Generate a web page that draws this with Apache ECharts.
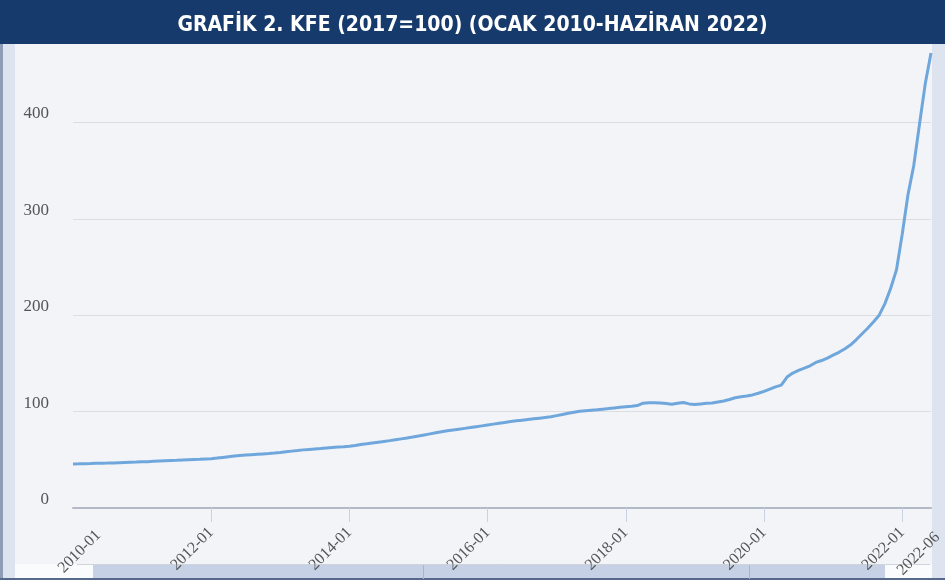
<!DOCTYPE html>
<html>
<head>
<meta charset="utf-8">
<title>KFE</title>
<script src="https://cdn.jsdelivr.net/npm/echarts@6/dist/echarts.min.js"></script>
<style>
html, body { margin: 0; padding: 0; background: #f3f4f8; }
#chart { width: 945px; height: 583px; }
</style>
</head>
<body>
<div id="chart"></div>
<script>
// yıllar ve aylar (2010-01 ... 2022-06)
const years = [2010, 2011, 2012, 2013, 2014, 2015, 2016, 2017, 2018, 2019, 2020, 2021, 2022];
const monthNames = ['01', '02', '03', '04', '05', '06', '07', '08', '09', '10', '11', '12'];

// KFE (2017=100), aylık
const kfe = [
    45.7, 45.8, 46.0, 46.1, 46.3, 46.5, 46.6, 46.8, 47.0, 47.2, 47.4, 47.6,          // 2010
    47.9, 48.1, 48.4, 48.7, 49.0, 49.3, 49.5, 49.8, 50.1, 50.4, 50.6, 50.9,          // 2011
    51.2, 51.8, 52.5, 53.2, 53.9, 54.5, 54.9, 55.3, 55.7, 56.1, 56.5, 57.0,          // 2012
    57.6, 58.3, 59.0, 59.6, 60.3, 60.8, 61.3, 61.7, 62.2, 62.7, 63.2, 63.6,          // 2013
    64.1, 64.9, 65.8, 66.6, 67.5, 68.3, 69.1, 69.9, 70.8, 71.7, 72.6, 73.6,          // 2014
    74.7, 75.8, 76.9, 78.0, 79.1, 80.2, 81.0, 81.8, 82.6, 83.4, 84.3, 85.2,          // 2015
    86.1, 87.0, 87.9, 88.8, 89.7, 90.4, 91.1, 91.8, 92.5, 93.2, 93.9, 94.6,          // 2016
    95.8, 97.0, 98.2, 99.4, 100.3, 100.9, 101.4, 101.9, 102.5, 103.1, 103.8, 104.4,  // 2017
    105.0, 105.6, 106.3, 108.7, 109.3, 109.3, 109.0, 108.5, 107.7, 108.7, 109.4, 108.0, // 2018
    107.3, 108.0, 108.7, 109.0, 110.0, 111.0, 112.6, 114.4, 115.5, 116.2, 117.3, 119.0, // 2019
    121.0, 123.3, 125.6, 127.5, 135.8, 140.0, 142.7, 145.0, 147.5, 151.0, 153.0, 155.5, // 2020
    158.5, 161.5, 165.0, 169.0, 174.5, 180.5, 186.5, 193.0, 200.0, 212.0, 228.0, 247.0, // 2021
    284.0, 325.0, 355.0, 398.0, 440.0, 472.0                                          // 2022
];

// eksen etiketleri
const xLabels = ['2010-01', '2012-01', '2014-01', '2016-01', '2018-01', '2020-01', '2022-01', '2022-06'];
const xTicks = ['2012-01', '2014-01', '2016-01', '2018-01', '2020-01', '2022-01'];
const yTicks = [0, 100, 200, 300, 400];

const titleText = 'GRAFİK 2. KFE (2017=100) (OCAK 2010-HAZİRAN 2022)';

// ay kategorilerini oluştur
const months = [];
years.forEach((y) => {
    monthNames.forEach((m) => {
        if (months.length < kfe.length) months.push(y + '-' + m);
    });
});

// ilk ve son etiket orijinalde biraz sağa kaymış
const categoryData = months.map((m, i) => {
    if (i === 0) return {value: m, textStyle: {verticalAlign: 'top', padding: [12, -16, 0, 0]}};
    if (i === months.length - 1) return {value: m, textStyle: {verticalAlign: 'top', padding: [0, -1, 0, 0]}};
    return m;
});

const chart = echarts.init(document.getElementById('chart'));

const option = {
    backgroundColor: '#f3f4f8',
    animation: false,
    title: {
        text: titleText,
        left: 'center',
        top: 10,
        textStyle: {
            color: '#ffffff',
            fontFamily: 'DejaVu Sans Condensed',
            fontWeight: 'bold',
            fontSize: 21
        }
    },
    // çerçeve, başlık bandı ve alttaki kaydırma çubuğu (süs)
    graphic: [
        {type: 'rect', z: -5, shape: {x: 0, y: 0, width: 945, height: 44}, style: {fill: '#173a6c'}},
        {type: 'rect', z: -5, shape: {x: 0, y: 44, width: 3, height: 539}, style: {fill: '#8e9db5'}},
        {type: 'rect', z: -5, shape: {x: 3, y: 44, width: 12, height: 535}, style: {fill: '#dde4f0'}},
        {type: 'rect', z: -5, shape: {x: 932, y: 44, width: 13, height: 535}, style: {fill: '#dde4f0'}},
        {type: 'rect', z: -5, shape: {x: 15, y: 564, width: 917, height: 15}, style: {fill: '#fafbfd'}},
        {type: 'rect', z: -5, shape: {x: 93, y: 564, width: 792, height: 15}, style: {fill: '#c6d1e6'}},
        {type: 'line', z: -4, shape: {x1: 77, y1: 564.5, x2: 930, y2: 564.5}, style: {stroke: '#cfd3da', lineWidth: 1}},
        {type: 'line', z: -4, shape: {x1: 423.5, y1: 565, x2: 423.5, y2: 579}, style: {stroke: '#aab5cc', lineWidth: 1}},
        {type: 'line', z: -4, shape: {x1: 749.5, y1: 565, x2: 749.5, y2: 579}, style: {stroke: '#aab5cc', lineWidth: 1}},
        {type: 'rect', z: -5, shape: {x: 0, y: 578, width: 945, height: 2}, style: {fill: '#56698a'}},
        {type: 'rect', z: -5, shape: {x: 0, y: 580, width: 945, height: 3}, style: {fill: '#ffffff'}}
    ],
    grid: {
        left: 73,
        right: 14,
        top: 53,
        bottom: 75,
        outerBoundsMode: 'none'
    },
    xAxis: {
        type: 'category',
        data: categoryData,
        boundaryGap: false,
        axisLine: {
            lineStyle: {color: '#b3b9c5', width: 2}
        },
        axisTick: {
            interval: (i, v) => xTicks.includes(v),
            length: 14,
            lineStyle: {color: '#c8d2e4'}
        },
        axisLabel: {
            interval: (i, v) => xLabels.includes(v),
            rotate: 45,
            margin: 22,
            fontFamily: 'Liberation Serif',
            fontSize: 16,
            color: '#555555'
        },
        splitLine: {show: false}
    },
    yAxis: {
        type: 'value',
        min: yTicks[0],
        max: 'dataMax',
        interval: 100,
        axisLine: {show: false},
        axisTick: {show: false},
        axisLabel: {
            showMaxLabel: false,
            margin: 24,
            verticalAlign: 'bottom',
            fontFamily: 'Liberation Serif',
            fontSize: 17,
            color: '#555555'
        },
        splitLine: {
            lineStyle: {color: ['#dcdde1', '#dcdde1', '#dcdde1', '#dcdde1', '#dcdde1', 'transparent']}
        }
    },
    series: [
        {
            name: 'KFE',
            type: 'line',
            data: kfe,
            showSymbol: false,
            lineStyle: {color: '#6fa7dc', width: 3},
            z: 3
        }
    ]
};
chart.setOption(option);
</script>
</body>
</html>
